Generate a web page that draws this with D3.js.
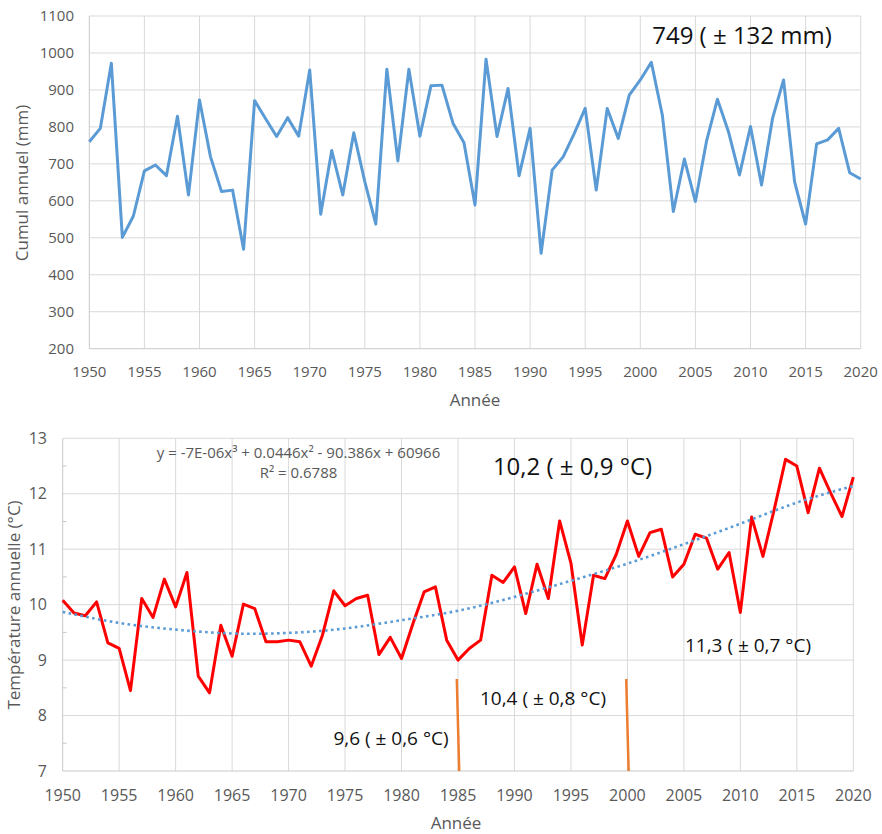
<!DOCTYPE html>
<html>
<head>
<meta charset="utf-8">
<script src="https://cdn.jsdelivr.net/npm/d3@7"></script>
<style>
  body { margin: 0; background: #fff; }
  text { font-family: "Open Sans", "Noto Sans", sans-serif; }
</style>
</head>
<body>
<svg></svg>
<script>
const width = 882;
const height = 834;

/* data */
const years = d3.range(1950, 2021);
const rainfall = [
  760, 796, 972, 501, 559, 681, 697, 668, 829, 616,
  873, 719, 625, 629, 469, 871, 822, 774, 825, 775,
  954, 564, 736, 616, 784, 652, 537, 956, 708, 956,
  775, 911, 913, 810, 757, 589, 983, 774, 904, 668,
  796, 458, 683, 719, 782, 850, 629, 850, 769, 886,
  927, 975, 832, 571, 713, 598, 760, 875, 787, 670,
  801, 643, 823, 927, 652, 537, 754, 765, 796, 676,
  659
];
const temperature = [
  10.08, 9.85, 9.80, 10.05, 9.31, 9.21, 8.45, 10.11, 9.77, 10.46,
  9.96, 10.58, 8.71, 8.41, 9.63, 9.07, 10.01, 9.93, 9.33, 9.33,
  9.36, 9.33, 8.89, 9.45, 10.25, 9.98, 10.11, 10.17, 9.10, 9.41,
  9.03, 9.65, 10.23, 10.32, 9.36, 9.00, 9.21, 9.36, 10.53, 10.40,
  10.68, 9.84, 10.73, 10.11, 11.51, 10.75, 9.27, 10.53, 10.47, 10.90,
  11.51, 10.87, 11.30, 11.36, 10.50, 10.73, 11.27, 11.20, 10.64, 10.94,
  9.86, 11.58, 10.87, 11.72, 12.62, 12.50, 11.66, 12.46, 12.01, 11.59,
  12.30
];
/* polynomial trend (order 3) as drawn on the chart */
const trendYears = [1950, 1955, 1960, 1965, 1970, 1975, 1980, 1985, 1990, 1995, 2000, 2005, 2010, 2015, 2020];
const trendValues = [9.87, 9.67, 9.55, 9.48, 9.49, 9.57, 9.72, 9.89, 10.14, 10.43, 10.74, 11.09, 11.46, 11.84, 12.14];

const rainTicks = d3.range(200, 1101, 100);
const tempTicks = [7, 8, 9, 10, 11, 12, 13];
const tempMinorTicks = [7.5, 8.5, 9.5, 10.5, 11.5, 12.5];
const yearTicks = d3.range(1950, 2021, 5);

const periodBreaks = [1985, 2000];
const rainLabel = '749 ( \u00b1 132 mm)';
const tempLabel = '10,2 ( \u00b1 0,9 \u00b0C)';
const periodLabels = ['9,6 ( \u00b1 0,6 \u00b0C)', '10,4 ( \u00b1 0,8 \u00b0C)', '11,3 ( \u00b1 0,7 \u00b0C)'];
const equation = ['y = -7E-06x\u00b3 + 0.0446x\u00b2 - 90.386x + 60966', 'R\u00b2 = 0.6788'];

const gridColor = '#d9d9d9';
const axisColor = '#c8c8c8';
const labelColor = '#595959';

const svg = d3.select('svg')
  .attr('width', width)
  .attr('height', height);

svg.append('rect')
  .attr('width', width)
  .attr('height', height)
  .attr('fill', '#fff');

/* ---------- top chart : rainfall ---------- */
const x1 = d3.scaleLinear().domain([1950, 2020]).range([89.3, 860.7]);
const y1 = d3.scaleLinear().domain([200, 1100]).range([348.7, 16]);

const rainChart = svg.append('g');

rainChart.append('g')
  .selectAll('line')
  .data(rainTicks.slice(1))
  .join('line')
    .attr('x1', x1(1950)).attr('x2', x1(2020))
    .attr('y1', d => y1(d)).attr('y2', d => y1(d))
    .attr('stroke', gridColor);

rainChart.append('g')
  .selectAll('line')
  .data(yearTicks.slice(1))
  .join('line')
    .attr('x1', d => x1(d)).attr('x2', d => x1(d))
    .attr('y1', y1(200)).attr('y2', y1(1100))
    .attr('stroke', gridColor);

rainChart.append('line')
  .attr('x1', x1(1950)).attr('x2', x1(1950))
  .attr('y1', y1(200)).attr('y2', y1(1100))
  .attr('stroke', axisColor);
rainChart.append('line')
  .attr('x1', x1(1950)).attr('x2', x1(2020))
  .attr('y1', y1(200)).attr('y2', y1(200))
  .attr('stroke', axisColor);

rainChart.append('g')
  .selectAll('text')
  .data(rainTicks)
  .join('text')
    .attr('x', 74)
    .attr('y', d => y1(d))
    .attr('dy', '0.35em')
    .attr('text-anchor', 'end')
    .attr('font-size', 15)
    .attr('fill', labelColor)
    .text(d => d);

rainChart.append('g')
  .selectAll('text')
  .data(yearTicks)
  .join('text')
    .attr('x', d => x1(d))
    .attr('y', 371.5)
    .attr('dy', '0.35em')
    .attr('text-anchor', 'middle')
    .attr('font-size', 15)
    .attr('fill', labelColor)
    .text(d => d);

rainChart.append('text')
  .attr('transform', 'translate(22,183) rotate(-90)')
  .attr('dy', '0.35em')
  .attr('text-anchor', 'middle')
  .attr('font-size', 17)
  .attr('fill', labelColor)
  .text('Cumul annuel (mm)');

rainChart.append('text')
  .attr('x', 475)
  .attr('y', 400)
  .attr('dy', '0.35em')
  .attr('text-anchor', 'middle')
  .attr('font-size', 17)
  .attr('fill', labelColor)
  .text('Année');

rainChart.append('path')
  .datum(years)
  .attr('fill', 'none')
  .attr('stroke', '#5b9bd5')
  .attr('stroke-width', 3)
  .attr('stroke-linejoin', 'round')
  .attr('d', d3.line().x(d => x1(d)).y((d, i) => y1(rainfall[i])));

rainChart.append('text')
  .attr('x', 742)
  .attr('y', 36)
  .attr('dy', '0.35em')
  .attr('text-anchor', 'middle')
  .attr('font-size', 24)
  .attr('fill', '#111')
  .text(rainLabel);

/* ---------- bottom chart : temperature ---------- */
const x2 = d3.scaleLinear().domain([1950, 2020]).range([62.7, 853.3]);
const y2 = d3.scaleLinear().domain([7, 13]).range([771, 438.3]);

const tempChart = svg.append('g');

tempChart.append('g')
  .selectAll('line')
  .data(tempTicks.slice(1))
  .join('line')
    .attr('x1', x2(1950)).attr('x2', x2(2020))
    .attr('y1', d => y2(d)).attr('y2', d => y2(d))
    .attr('stroke', gridColor);

tempChart.append('g')
  .selectAll('line')
  .data(yearTicks.slice(1))
  .join('line')
    .attr('x1', d => x2(d)).attr('x2', d => x2(d))
    .attr('y1', y2(7)).attr('y2', y2(13))
    .attr('stroke', gridColor);

tempChart.append('line')
  .attr('x1', x2(1950)).attr('x2', x2(1950))
  .attr('y1', y2(7)).attr('y2', y2(13))
  .attr('stroke', axisColor);
tempChart.append('line')
  .attr('x1', x2(1950)).attr('x2', x2(2020))
  .attr('y1', y2(7)).attr('y2', y2(7))
  .attr('stroke', axisColor);

/* minor ticks on the y axis */
tempChart.append('g')
  .selectAll('line')
  .data(tempMinorTicks)
  .join('line')
    .attr('x1', x2(1950)).attr('x2', x2(1950) + 4)
    .attr('y1', d => y2(d)).attr('y2', d => y2(d))
    .attr('stroke', axisColor);

tempChart.append('g')
  .selectAll('text')
  .data(tempTicks)
  .join('text')
    .attr('x', 47)
    .attr('y', d => y2(d))
    .attr('dy', '0.35em')
    .attr('text-anchor', 'end')
    .attr('font-size', 16)
    .attr('fill', labelColor)
    .text(d => d);

tempChart.append('g')
  .selectAll('text')
  .data(yearTicks)
  .join('text')
    .attr('x', d => x2(d))
    .attr('y', 795)
    .attr('dy', '0.35em')
    .attr('text-anchor', 'middle')
    .attr('font-size', 16)
    .attr('fill', labelColor)
    .text(d => d);

tempChart.append('text')
  .attr('transform', 'translate(14,605) rotate(-90)')
  .attr('dy', '0.35em')
  .attr('text-anchor', 'middle')
  .attr('font-size', 17)
  .attr('fill', labelColor)
  .text('Température annuelle (°C)');

tempChart.append('text')
  .attr('x', 456)
  .attr('y', 823)
  .attr('dy', '0.35em')
  .attr('text-anchor', 'middle')
  .attr('font-size', 17)
  .attr('fill', labelColor)
  .text('Année');

/* period separators */
tempChart.append('g')
  .selectAll('line')
  .data(periodBreaks)
  .join('line')
    .attr('x1', d => x2(d) - 1.2).attr('x2', d => x2(d) + 1.2)
    .attr('y1', y2(8.66)).attr('y2', y2(7))
    .attr('stroke', '#ed7d31')
    .attr('stroke-width', 2.5);

tempChart.append('path')
  .datum(years)
  .attr('fill', 'none')
  .attr('stroke', '#ff0000')
  .attr('stroke-width', 3)
  .attr('stroke-linejoin', 'round')
  .attr('d', d3.line().x(d => x2(d)).y((d, i) => y2(temperature[i])));

tempChart.append('path')
  .datum(trendYears)
  .attr('fill', 'none')
  .attr('stroke', '#5b9bd5')
  .attr('stroke-width', 2.6)
  .attr('stroke-dasharray', '2.6 3.4')
  .attr('d', d3.line().curve(d3.curveNatural).x(d => x2(d)).y((d, i) => y2(trendValues[i])));

/* equation of the trend */
tempChart.append('g')
  .selectAll('text')
  .data(equation)
  .join('text')
    .attr('x', 298.5)
    .attr('y', (d, i) => 452.5 + i * 20)
    .attr('dy', '0.35em')
    .attr('text-anchor', 'middle')
    .attr('font-size', 15)
    .attr('fill', labelColor)
    .text(d => d);

tempChart.append('text')
  .attr('x', 572.5)
  .attr('y', 467)
  .attr('dy', '0.35em')
  .attr('text-anchor', 'middle')
  .attr('font-size', 24)
  .attr('fill', '#111')
  .text(tempLabel);

const periodPos = [[391, 738], [543, 698], [748, 645]];
tempChart.append('g')
  .selectAll('text')
  .data(periodLabels)
  .join('text')
    .attr('x', (d, i) => periodPos[i][0])
    .attr('y', (d, i) => periodPos[i][1])
    .attr('dy', '0.35em')
    .attr('text-anchor', 'middle')
    .attr('font-size', 19)
    .attr('fill', '#111')
    .text(d => d);
</script>
</body>
</html>
